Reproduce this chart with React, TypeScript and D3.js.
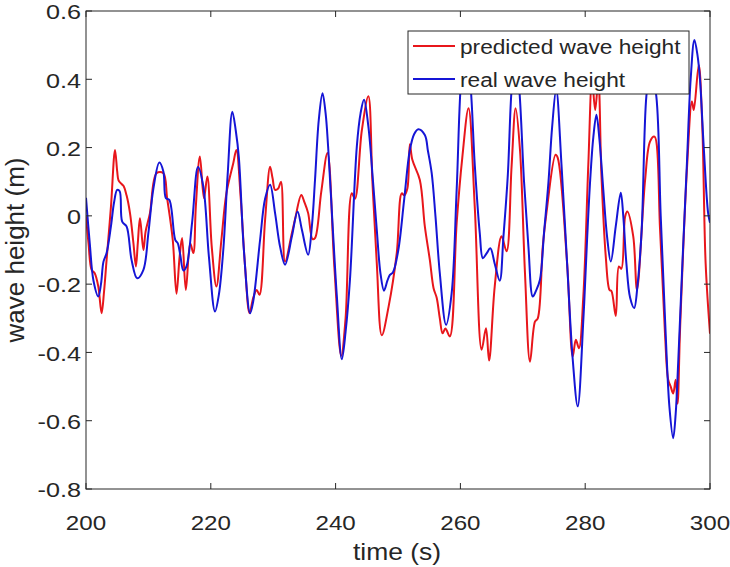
import React from "react";
import * as d3 from "d3";

const xTicks = [200, 220, 240, 260, 280, 300];
const yTicks = [0.6, 0.4, 0.2, 0, -0.2, -0.4, -0.6, -0.8];
const yTickLabels = ["0.6", "0.4", "0.2", "0", "-0.2", "-0.4", "-0.6", "-0.8"];
const seriesNames = ["predicted wave height", "real wave height"];

const realT = [200.0,200.6,201.2,201.97,202.4,202.8,203.3,204.0,204.5,205.0,205.4,205.8,206.5,207.3,208.2,209.2,210.0,210.8,211.75,212.4,212.8,213.35,214.3,214.7,215.1,215.6,216.1,217.0,217.95,218.8,219.7,220.67,221.3,222.0,222.7,223.45,224.0,224.5,225.3,226.3,226.8,227.9,228.7,229.5,230.3,231.1,231.9,233.0,233.9,234.6,235.6,236.2,236.7,237.3,237.9,238.4,238.8,239.5,240.2,241.0,241.6,242.3,243.4,244.0,244.55,245.25,246.0,246.6,247.2,247.75,248.3,248.7,249.2,250.05,251.0,251.9,252.6,253.25,254.3,254.8,255.4,256.0,256.7,257.7,258.6,259.4,260.2,260.8,261.5,262.3,263.1,263.6,264.2,264.8,265.5,266.3,266.9,267.6,268.2,268.8,269.4,270.2,270.9,271.6,272.1,272.75,273.4,274.1,274.7,275.35,276.2,277.1,278.0,278.8,279.7,280.3,280.8,281.3,281.8,282.3,282.9,283.5,284.1,284.9,285.7,286.1,286.6,287.2,287.85,288.4,289.05,289.8,290.5,291.4,292.1,292.8,293.5,294.1,294.5,294.9,295.6,296.3,296.9,297.5,298.0,298.4,299.0,299.7,300.0];
const realV = [0.053,-0.08,-0.19,-0.236,-0.2,-0.134,-0.109,-0.03,0.04,0.076,0.072,-0.017,-0.031,-0.129,-0.183,-0.158,-0.05,0.08,0.156,0.13,0.052,0.047,-0.07,-0.08,-0.114,-0.16,-0.148,-0.02,0.143,0.086,-0.12,-0.28,-0.23,-0.1,0.12,0.305,0.25,0.17,-0.1,-0.285,-0.25,-0.07,0.05,0.091,0.008,-0.09,-0.143,-0.06,0.013,-0.041,-0.114,-0.03,0.105,0.28,0.359,0.3,0.203,-0.02,-0.236,-0.42,-0.34,-0.187,0.203,0.3,0.34,0.262,0.1,-0.041,-0.17,-0.219,-0.19,-0.173,-0.165,-0.1,0.05,0.193,0.24,0.254,0.237,0.19,0.125,0.0,-0.168,-0.319,-0.226,0.076,0.418,0.48,0.408,0.15,-0.05,-0.124,-0.11,-0.095,-0.14,-0.19,-0.06,0.12,0.369,0.47,0.38,0.1,-0.09,-0.236,-0.22,-0.187,-0.05,0.096,0.26,0.37,0.15,-0.139,-0.42,-0.558,-0.305,-0.07,0.105,0.23,0.296,0.22,0.076,-0.06,-0.134,-0.03,0.068,0.0,-0.139,-0.24,-0.27,-0.2,-0.041,0.35,0.44,0.35,0.0,-0.305,-0.56,-0.651,-0.58,-0.431,-0.13,0.154,0.4,0.515,0.47,0.398,0.2,0.008,-0.02];

const predT = [200.0,200.4,200.9,201.4,201.97,202.5,202.9,203.3,204.0,204.65,205.0,205.2,205.6,206.0,206.5,207.05,207.6,208.0,208.3,208.65,209.2,209.55,210.25,211.3,212.4,213.0,213.9,214.5,215.0,215.4,216.0,216.7,217.2,217.6,218.25,218.9,219.45,220.15,220.9,221.7,222.5,223.6,224.1,224.8,225.5,226.2,226.8,227.35,227.8,228.7,229.5,229.9,230.3,230.8,231.25,231.9,233.0,233.5,234.5,235.0,235.6,236.3,236.7,237.7,238.7,239.8,240.9,241.6,242.6,243.1,244.2,245.25,245.9,246.6,247.4,248.5,249.8,250.6,251.0,251.5,251.9,252.3,253.5,254.3,255.1,255.7,256.2,256.7,257.15,257.6,258.3,259.4,260.3,261.3,262.3,263.4,264.1,264.6,265.5,266.6,267.4,268.2,268.85,269.55,270.35,271.15,271.95,272.4,273.2,273.8,275.25,275.6,277.1,278.0,278.5,279.0,279.7,280.5,281.1,281.6,282.1,282.6,283.3,283.9,284.2,284.9,285.4,285.8,286.4,286.75,287.7,288.3,289.6,290.4,291.1,292.0,292.8,293.3,293.7,294.1,294.5,294.8,295.2,296.3,297.1,297.4,298.2,298.75,299.3,300.0];
const predV = [-0.002,-0.08,-0.158,-0.168,-0.207,-0.285,-0.22,-0.129,0.027,0.193,0.13,0.105,0.095,0.088,0.06,0.008,-0.08,-0.148,-0.08,-0.007,-0.1,-0.046,0.008,0.125,0.125,0.052,-0.07,-0.228,-0.12,-0.065,-0.217,-0.08,-0.109,0.027,0.174,0.052,0.115,-0.09,-0.207,-0.07,0.066,0.154,0.193,0.05,-0.15,-0.285,-0.24,-0.217,-0.231,-0.012,0.144,0.11,0.076,0.08,0.1,-0.134,-0.05,-0.01,0.061,0.04,0.008,-0.068,-0.065,0.07,0.184,-0.15,-0.41,-0.3,0.066,0.05,0.25,0.35,0.1,-0.139,-0.35,-0.265,-0.109,0.066,0.06,0.08,0.21,0.164,0.105,-0.031,-0.129,-0.212,-0.24,-0.3,-0.344,-0.33,-0.353,-0.021,0.17,0.315,0.027,-0.392,-0.329,-0.424,-0.207,-0.06,-0.104,0.144,0.315,0.193,-0.168,-0.427,-0.31,-0.3,-0.09,0.01,0.179,0.17,-0.139,-0.412,-0.363,-0.388,-0.236,0.15,0.4,0.31,0.4,0.12,-0.12,-0.217,-0.22,-0.293,-0.148,-0.155,-0.002,0.013,-0.06,-0.217,0.105,0.218,0.232,-0.041,-0.35,-0.48,-0.5,-0.52,-0.48,-0.55,-0.334,0.135,0.335,0.31,0.442,0.271,-0.139,-0.345];

const W = 730, H = 567;
const L = 86, R = 710, T = 11, B = 489;
const FONT = "'Liberation Sans', Arial, Helvetica, sans-serif";
const TXT = "#262626";
const RED = "#e8161b";
const BLUE = "#1515d6";

export default function App() {
  const x = d3.scaleLinear().domain([200, 300]).range([L, R]);
  const y = d3.scaleLinear().domain([-0.8, 0.6]).range([B, T]);
  const line = d3.line<[number, number]>()
    .x(d => x(d[0]))
    .y(d => y(d[1]))
    .curve(d3.curveCatmullRom.alpha(0.5));
  const pred = line(predT.map((t, i) => [t, predV[i]]) as [number, number][]) || "";
  const real = line(realT.map((t, i) => [t, realV[i]]) as [number, number][]) || "";
  const tickLen = 6;

  const stext = (tx: number, ty: number, s: string, anchor: string, size: number, sx: number) => (
    <text transform={`translate(${tx},${ty}) scale(${sx},1)`} textAnchor={anchor as any}
      dominantBaseline="central" fontFamily={FONT} fontSize={size} fill={TXT}>{s}</text>
  );

  return (
    <svg width={W} height={H} style={{ position: "absolute", left: 0, top: 0, background: "#fff" }}>
      <rect x={0} y={0} width={W} height={H} fill="#fff" />
      <defs>
        <clipPath id="plotclip"><rect x={L} y={T} width={R - L} height={B - T} /></clipPath>
      </defs>
      <g clipPath="url(#plotclip)">
        <path d={pred} fill="none" stroke={RED} strokeWidth={2} strokeLinejoin="round" />
        <path d={real} fill="none" stroke={BLUE} strokeWidth={2} strokeLinejoin="round" />
      </g>
      <rect x={L} y={T} width={R - L} height={B - T} fill="none" stroke={TXT} strokeWidth={1} />
      {xTicks.map(t => (
        <g key={"xt" + t}>
          <line x1={x(t)} x2={x(t)} y1={B} y2={B - tickLen} stroke={TXT} />
          <line x1={x(t)} x2={x(t)} y1={T} y2={T + tickLen} stroke={TXT} />
          {stext(x(t), 523, String(t), "middle", 21, 1.15)}
        </g>
      ))}
      {yTicks.map((v, i) => (
        <g key={"yt" + i}>
          <line x1={L} x2={L + tickLen} y1={y(v)} y2={y(v)} stroke={TXT} />
          <line x1={R} x2={R - tickLen} y1={y(v)} y2={y(v)} stroke={TXT} />
          {stext(81, y(v) + 1, yTickLabels[i], "end", 21, 1.2)}
        </g>
      ))}
      {stext(397, 552, "time (s)", "middle", 23, 1.15)}
      <text transform={`translate(15,${(T + B) / 2}) rotate(-90)`} textAnchor="middle" dominantBaseline="central"
        fontFamily={FONT} fontSize={26} fill={TXT}>wave height (m)</text>
      <g>
        <rect x={408} y={31} width={281} height={63} fill="#fff" stroke={TXT} strokeWidth={1} />
        <line x1={413} x2={455} y1={46} y2={46} stroke={RED} strokeWidth={2} />
        <line x1={413} x2={455} y1={79} y2={79} stroke={BLUE} strokeWidth={2} />
        {stext(460, 47, seriesNames[0], "start", 21, 1.08)}
        {stext(460, 80, seriesNames[1], "start", 21, 1.08)}
      </g>
    </svg>
  );
}
